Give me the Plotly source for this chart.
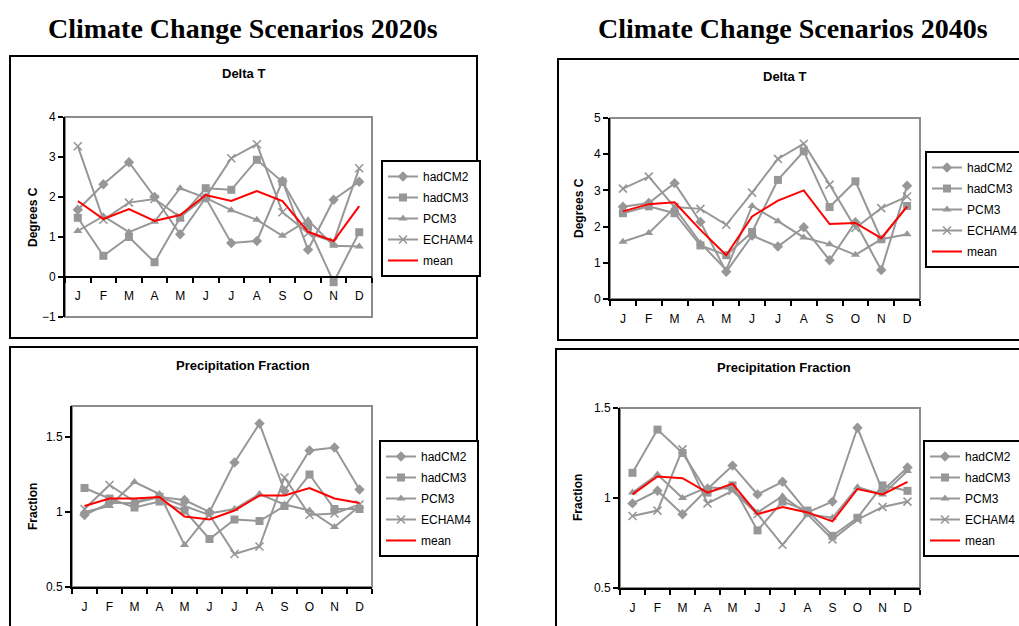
import plotly.graph_objects as go

W, H = 1019, 626

MONTHS = ["J", "F", "M", "A", "M", "J", "J", "A", "S", "O", "N", "D"]
SERIES = ["hadCM2", "hadCM3", "PCM3", "ECHAM4", "mean"]

# 2020s Delta T
dt20_hadCM2 = [1.68, 2.32, 2.87, 2.00, 1.07, 1.98, 0.85, 0.90, 2.40, 0.68, 1.93, 2.38]
dt20_hadCM3 = [1.48, 0.53, 1.00, 0.37, 1.48, 2.22, 2.18, 2.93, 2.38, 1.27, -0.13, 1.12]
dt20_PCM3 = [1.15, 1.52, 1.12, 1.38, 2.22, 1.98, 1.67, 1.43, 1.03, 1.42, 0.78, 0.76]
dt20_ECHAM4 = [3.27, 1.43, 1.86, 1.95, 1.50, 2.00, 2.97, 3.32, 1.62, 1.10, 0.88, 2.72]
dt20_mean = [1.90, 1.45, 1.70, 1.40, 1.55, 2.05, 1.90, 2.15, 1.90, 1.13, 0.90, 1.77]

# 2040s Delta T
dt40_hadCM2 = [2.55, 2.65, 3.20, 2.13, 0.75, 1.75, 1.45, 1.98, 1.07, 2.12, 0.80, 3.13]
dt40_hadCM3 = [2.37, 2.56, 2.37, 1.48, 1.21, 1.85, 3.29, 4.08, 2.54, 3.25, 1.65, 2.57]
dt40_PCM3 = [1.58, 1.82, 2.52, 1.55, 0.80, 2.57, 2.15, 1.70, 1.51, 1.22, 1.65, 1.79]
dt40_ECHAM4 = [3.05, 3.38, 2.54, 2.49, 2.05, 2.94, 3.87, 4.29, 3.16, 1.96, 2.51, 2.83]
dt40_mean = [2.42, 2.62, 2.67, 1.91, 1.21, 2.28, 2.72, 3.00, 2.07, 2.10, 1.68, 2.55]

# 2020s Precipitation Fraction
pf20_hadCM2 = [0.98, 1.06, 1.06, 1.10, 1.08, 1.00, 1.33, 1.59, 1.14, 1.41, 1.43, 1.15]
pf20_hadCM3 = [1.16, 1.09, 1.03, 1.07, 1.01, 0.82, 0.95, 0.94, 1.04, 1.25, 1.02, 1.02]
pf20_PCM3 = [1.00, 1.04, 1.20, 1.12, 0.78, 0.99, 1.02, 1.12, 1.05, 1.01, 0.90, 1.04]
pf20_ECHAM4 = [1.02, 1.18, 1.07, 1.10, 1.04, 0.98, 0.72, 0.77, 1.23, 0.98, 0.99, 1.05]
pf20_mean = [1.04, 1.09, 1.09, 1.10, 0.97, 0.95, 1.01, 1.11, 1.11, 1.16, 1.09, 1.06]

# 2040s Precipitation Fraction
pf40_hadCM2 = [0.97, 1.04, 0.91, 1.05, 1.18, 1.02, 1.09, 0.92, 0.98, 1.39, 1.04, 1.17]
pf40_hadCM3 = [1.14, 1.38, 1.25, 1.03, 1.07, 0.82, 0.98, 0.93, 0.79, 0.89, 1.07, 1.04]
pf40_PCM3 = [1.03, 1.13, 1.00, 1.06, 1.05, 0.92, 1.01, 0.91, 0.89, 1.06, 1.02, 1.15]
pf40_ECHAM4 = [0.90, 0.93, 1.27, 0.97, 1.04, 0.91, 0.74, 0.91, 0.77, 0.88, 0.95, 0.98]
pf40_mean = [1.02, 1.12, 1.11, 1.03, 1.08, 0.91, 0.95, 0.92, 0.87, 1.05, 1.02, 1.09]

GRAY = "#979797"
AXGRAY = "#8c8c8c"
FONT = "Liberation Sans, Arial, sans-serif"
XIDX = list(range(len(MONTHS)))


def px(x):
    return x / W


def py(y):
    return 1 - y / H


panels = [
    dict(data=[dt20_hadCM2, dt20_hadCM3, dt20_PCM3, dt20_ECHAM4, dt20_mean],
         xd=(65, 372), yd=(117, 317), yr=(-1, 4), dtick=1, xpos=277,
         legend=(381, 160), title="Delta T", tpos=(243, 73),
         ytitle="Degrees C", ytpos=(33, 217)),
    dict(data=[dt40_hadCM2, dt40_hadCM3, dt40_PCM3, dt40_ECHAM4, dt40_mean],
         xd=(610, 920), yd=(118, 299), yr=(0, 5), dtick=1, xpos=None,
         legend=(925, 151), title="Delta T", tpos=(784, 77),
         ytitle="Degrees C", ytpos=(579, 208)),
    dict(data=[pf20_hadCM2, pf20_hadCM3, pf20_PCM3, pf20_ECHAM4, pf20_mean],
         xd=(72, 372), yd=(406, 587), yr=(0.5, 1.707), dtick=0.5, xpos=None,
         legend=(379, 440), title="Precipitation Fraction", tpos=(243, 365),
         ytitle="Fraction", ytpos=(33, 507)),
    dict(data=[pf40_hadCM2, pf40_hadCM3, pf40_PCM3, pf40_ECHAM4, pf40_mean],
         xd=(620, 920), yd=(408, 588), yr=(0.5, 1.5), dtick=0.5, xpos=None,
         legend=(923, 440), title="Precipitation Fraction", tpos=(784, 367),
         ytitle="Fraction", ytpos=(578, 498)),
]

markers = [
    dict(symbol="diamond", size=8, color=GRAY),
    dict(symbol="square", size=8, color=GRAY),
    dict(symbol="triangle-up", size=8, color=GRAY),
    dict(symbol="x-thin", size=8, color=GRAY, line=dict(color=GRAY, width=1.6)),
]

fig = go.Figure()
layout = dict(
    width=W, height=H, autosize=False,
    margin=dict(l=0, r=0, t=0, b=0, pad=0, autoexpand=False),
    paper_bgcolor="white", plot_bgcolor="white",
    font=dict(family=FONT, size=12, color="black"),
    showlegend=True,
)
shapes = []
annotations = []

for i, p in enumerate(panels):
    n = "" if i == 0 else str(i + 1)
    xa, ya = "x" + n, "y" + n
    leg = "legend" + n
    for j, name in enumerate(SERIES):
        vals = p["data"][j]
        if name == "mean":
            tr = go.Scatter(x=XIDX, y=vals, mode="lines", name=name,
                            line=dict(color="#ff0000", width=2))
        else:
            tr = go.Scatter(x=XIDX, y=vals, mode="lines+markers", name=name,
                            line=dict(color=GRAY, width=2), marker=markers[j])
        tr.update(xaxis=xa, yaxis=ya, legend=leg, legendgroup=f"g{i}_{j}")
        fig.add_trace(tr)

    xaxis = dict(
        domain=[px(p["xd"][0]), px(p["xd"][1])],
        range=[-0.5, 11.5], tickmode="array", tickvals=XIDX, ticktext=MONTHS,
        ticks="outside", ticklen=8, tickcolor="rgba(0,0,0,0)",
        showline=True, linecolor="black", linewidth=2, showgrid=False, zeroline=False,
        tickfont=dict(size=12, family=FONT),
        minor=dict(tickmode="linear", tick0=-0.5, dtick=1, ticks="outside",
                   ticklen=5, tickcolor="black", tickwidth=2, showgrid=False),
        fixedrange=True, automargin=False,
    )
    if p["xpos"] is not None:
        xaxis.update(anchor="free", position=py(p["xpos"]))
    else:
        xaxis.update(anchor=ya)
    yaxis = dict(
        domain=[py(p["yd"][1]), py(p["yd"][0])],
        range=list(p["yr"]), dtick=p["dtick"], tick0=0.5 if p["dtick"] == 0.5 else 0,
        ticks="outside", ticklen=5, tickwidth=2, tickcolor="black",
        showline=True, linecolor="black", linewidth=2, showgrid=False, zeroline=False,
        anchor=xa, tickfont=dict(size=12, family=FONT), fixedrange=True, automargin=False,
    )
    layout["xaxis" + n] = xaxis
    layout["yaxis" + n] = yaxis

    layout[leg] = dict(
        x=px(p["legend"][0]), y=py(p["legend"][1]), xanchor="left", yanchor="top",
        bgcolor="white", bordercolor="black", borderwidth=2,
        font=dict(size=12, family=FONT, color="black"),
        tracegroupgap=2, itemwidth=30, traceorder="grouped",
    )

    # plot-area border (gray)
    shapes.append(dict(type="rect", xref=xa + " domain", yref=ya + " domain",
                       x0=0, x1=1, y0=0, y1=1, line=dict(color=AXGRAY, width=2),
                       layer="below"))

    annotations.append(dict(text="<b>" + p["title"] + "</b>", x=px(p["tpos"][0]),
                            y=py(p["tpos"][1]), xref="paper", yref="paper",
                            showarrow=False, font=dict(size=13, family=FONT),
                            xanchor="center", yanchor="middle"))
    annotations.append(dict(text="<b>" + p["ytitle"] + "</b>", x=px(p["ytpos"][0]),
                            y=py(p["ytpos"][1]), xref="paper", yref="paper",
                            showarrow=False, textangle=-90, font=dict(size=12, family=FONT),
                            xanchor="center", yanchor="middle"))

# chart boxes
for (x0, y0, x1, y1) in [(10, 56, 477, 338), (558, 59, 1040, 340),
                         (10, 347, 477, 660), (556, 349, 1040, 660)]:
    shapes.append(dict(type="rect", xref="paper", yref="paper",
                       x0=px(x0), x1=px(x1), y0=py(y1), y1=py(y0),
                       line=dict(color="black", width=2), layer="below"))

for text, cx in [("Climate Change Scenarios 2020s", 243),
                 ("Climate Change Scenarios 2040s", 793)]:
    annotations.append(dict(text="<b>" + text + "</b>", x=px(cx), y=py(28),
                            xref="paper", yref="paper", showarrow=False,
                            font=dict(size=28, family="Liberation Serif, Times New Roman, serif"),
                            xanchor="center", yanchor="middle"))

layout["shapes"] = shapes
layout["annotations"] = annotations
fig.update_layout(**layout)

PAGE_FIX = (
    "var h=document.documentElement, b=document.body;"
    "h.style.margin='0';h.style.padding='0';h.style.overflow='hidden';"
    "b.style.margin='0';b.style.padding='0';b.style.overflow='hidden';"
    "var d=document.getElementById('{plot_id}');"
    "d.parentElement.style.margin='0';"
    "d.style.position='absolute';d.style.left='0px';d.style.top='0px';"
)
fig.write_html("out.html", post_script=PAGE_FIX,
               config={"displayModeBar": False, "responsive": False})
